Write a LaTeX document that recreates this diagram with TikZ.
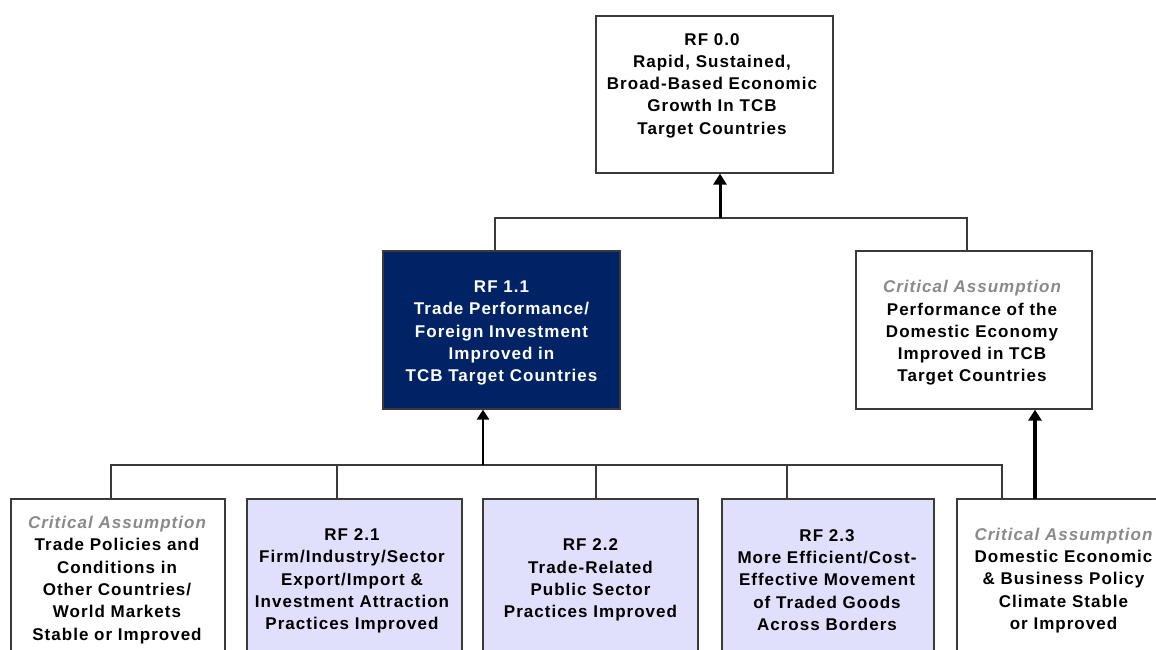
\documentclass[tikz,border=0pt]{standalone}
\usepackage{fontspec}
\setmainfont{Liberation Sans}
\newfontfamily\labfont[LetterSpace=6]{Liberation Sans}
\usetikzlibrary{arrows.meta}
\definecolor{linegray}{HTML}{3A3A3A}
\definecolor{navy}{HTML}{002366}
\definecolor{lav}{HTML}{E0E0FC}
\definecolor{cagray}{HTML}{8A8A8A}
\tikzset{
  box/.style={draw=linegray, line width=1.2pt, rectangle, inner sep=0pt},
  txt/.style={font=\labfont\bfseries\fontsize{17}{22.3}\selectfont, align=center, inner sep=0pt, text=black},
  conn/.style={draw=linegray, line width=1.3pt},
  bigarrow/.style={draw=black, line width=3pt, -{Triangle[width=13pt,length=11pt]}},
  midarrow/.style={draw=black, line width=2.6pt, -{Triangle[width=12pt,length=10pt]}},
  heavyarrow/.style={draw=black, line width=4.5pt, -{Triangle[width=13pt,length=11pt]}},
}
\newcommand{\crit}{{\itshape\color{cagray}Critical Assumption}}
\begin{document}
\begin{tikzpicture}[x=1pt,y=-1pt]
\useasboundingbox (0,0) rectangle (1156,650);
\clip (0,0) rectangle (1156,650);
\fill[white] (0,0) rectangle (1156,650);

% top box
\node[box, minimum width=237pt, minimum height=157pt] (top) at (714.5,94.5) {};
\node[txt] (toptext) at (712,85.5) {RF 0.0\\Rapid, Sustained,\\Broad-Based Economic\\Growth In TCB\\Target Countries};

% middle row
\node[box, fill=navy, minimum width=237pt, minimum height=158pt] (rf11) at (501.5,330) {};
\node[txt, text=white] (rf11text) at (501.5,333) {RF 1.1\\Trade Performance/\\Foreign Investment\\Improved in\\TCB Target Countries};

\node[box, minimum width=236pt, minimum height=158pt] (ca1) at (974,330) {};
\node[txt] (ca1text) at (972,333) {\crit\\Performance of the\\Domestic Economy\\Improved in TCB\\Target Countries};

% bottom row
\node[box, minimum width=214pt, minimum height=161pt] (b1) at (118,579.5) {};
\node[txt] (b1text) at (117,580) {\crit\\Trade Policies and\\Conditions in\\Other Countries/\\World Markets\\Stable or Improved};

\node[box, fill=lav, minimum width=215pt, minimum height=161pt] (b2) at (354.5,579.5) {};
\node[txt] (b2text) at (352,581) {RF 2.1\\Firm/Industry/Sector\\Export/Import \&\\Investment Attraction\\Practices Improved};

\node[box, fill=lav, minimum width=215pt, minimum height=161pt] (b3) at (590.5,579.5) {};
\node[txt] (b3text) at (590.5,580) {RF 2.2\\Trade-Related\\Public Sector\\Practices Improved};

\node[box, fill=lav, minimum width=212pt, minimum height=161pt] (b4) at (828,579.5) {};
\node[txt] (b4text) at (827,580) {RF 2.3\\More Efficient/Cost-\\Effective Movement\\of Traded Goods\\Across Borders};

\node[box, minimum width=214pt, minimum height=161pt] (b5) at (1064,579.5) {};
\node[txt] (b5text) at (1063.5,580.5) {\crit\\Domestic Economic\\\& Business Policy\\Climate Stable\\or Improved};

% connectors top level
\coordinate (topbar) at (720,218);
\draw[conn] ([xshift=-6.5pt]rf11.north) |- (topbar) -| ([xshift=-7pt]ca1.north);
\draw[bigarrow] (topbar) -- (top.south -| topbar);

% connectors bottom level
\coordinate (botbar) at (483,465);
\draw[conn] ([xshift=-7pt]b1.north) |- ([xshift=-62pt]b5.north |- botbar) -- ([xshift=-62pt]b5.north);
\draw[conn] ([xshift=-17.5pt]b2.north) -- ([xshift=-17.5pt]b2.north |- botbar);
\draw[conn] ([xshift=5.5pt]b3.north) -- ([xshift=5.5pt]b3.north |- botbar);
\draw[conn] ([xshift=-41pt]b4.north) -- ([xshift=-41pt]b4.north |- botbar);
\draw[midarrow] (botbar) -- (rf11.south -| botbar);
\coordinate (rarrow) at (1035,499);
\draw[heavyarrow] (rarrow) -- (ca1.south -| rarrow);
\end{tikzpicture}
\end{document}
